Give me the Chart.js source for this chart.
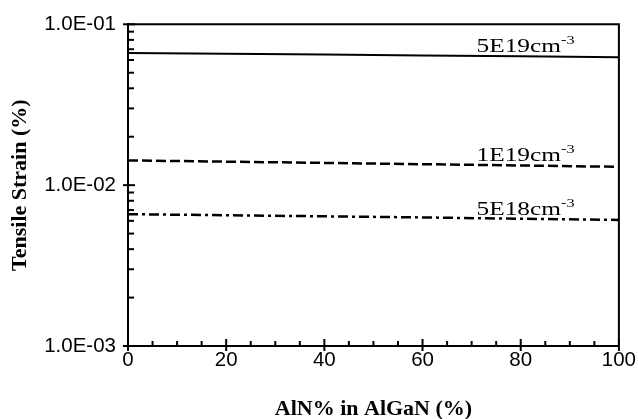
<!DOCTYPE html>
<html>
<head>
<meta charset="utf-8">
<script src="https://cdn.jsdelivr.net/npm/chart.js@4/dist/chart.umd.min.js"></script>
<style>
    html, body { margin: 0; padding: 0; background: #fff; }
    #wrap { width: 638px; height: 419px; }
</style>
</head>
<body>
<div id="wrap"><canvas id="myChart"></canvas></div>
<script>
// AlN fraction (%)
const alnPercent = [0, 20, 40, 60, 80, 100];

// tensile strain (%) for each doping level
const strain5e19 = [0.0662, 0.0655, 0.0648, 0.0640, 0.0632, 0.0624];
const strain1e19 = [0.01425, 0.0140, 0.01375, 0.0135, 0.01325, 0.0130];
const strain5e18 = [0.0066, 0.0065, 0.0064, 0.0063, 0.00618, 0.00608];

const seriesNames = ['5E19cm', '1E19cm', '5E18cm'];
const seriesSup = '-3';

const xTickValues = [0, 20, 40, 60, 80, 100];
const yTickValues = [0.001, 0.01, 0.1];
const yTickLabels = ['1.0E-03', '1.0E-02', '1.0E-01'];

const LABEL_AT = 71; // x value where the series labels start

// tick marks, frame and series labels
const decorPlugin = {
    id: 'decor',
    afterDraw(chart) {
        const ctx = chart.ctx;
        const xs = chart.scales.x;
        const ys = chart.scales.y;
        const a = chart.chartArea;

        ctx.save();
        ctx.strokeStyle = '#000';
        ctx.fillStyle = '#000';

        // frame top + right
        ctx.lineWidth = 2;
        ctx.beginPath();
        ctx.moveTo(a.left, a.top);
        ctx.lineTo(a.right, a.top);
        ctx.lineTo(a.right, a.bottom);
        ctx.stroke();

        // y ticks
        yTickValues.forEach(v => {
            const y = ys.getPixelForValue(v);
            ctx.beginPath();
            ctx.moveTo(a.left - 5, y);
            ctx.lineTo(a.left + 7, y);
            ctx.stroke();
        });
        for (let d = 0; d < yTickValues.length - 1; d++) {
            for (let k = 2; k <= 9; k++) {
                const y = ys.getPixelForValue(yTickValues[d] * k);
                ctx.beginPath();
                ctx.moveTo(a.left, y);
                ctx.lineTo(a.left + 6, y);
                ctx.stroke();
            }
        }

        // x ticks
        for (let v = 0; v <= 100; v += 5) {
            const x = xs.getPixelForValue(v);
            ctx.beginPath();
            if (v % 20 === 0) {
                ctx.moveTo(x, a.bottom - 7);
                ctx.lineTo(x, a.bottom + 5);
            } else {
                ctx.moveTo(x, a.bottom - 5);
                ctx.lineTo(x, a.bottom);
            }
            ctx.stroke();
        }

        // series labels
        const idx = alnPercent.indexOf(80);
        const x0 = xs.getPixelForValue(LABEL_AT);
        chart.data.datasets.forEach((ds, i) => {
            const yLine = ys.getPixelForValue(ds.data[idx]);
            const base = yLine - 4;
            ctx.save();
            ctx.translate(x0, base);
            ctx.scale(1.3, 1);
            ctx.textBaseline = 'alphabetic';
            ctx.textAlign = 'left';
            ctx.font = '19.5px "Liberation Serif", "Times New Roman", serif';
            ctx.fillText(seriesNames[i], 0, 0);
            const w = ctx.measureText(seriesNames[i]).width;
            ctx.font = '12.5px "Liberation Serif", "Times New Roman", serif';
            ctx.fillText(seriesSup, w, -8);
            ctx.restore();
        });

        ctx.restore();
    }
};

const ctx = document.getElementById('myChart').getContext('2d');
new Chart(ctx, {
    type: 'line',
    data: {
        labels: alnPercent,
        datasets: [{
            label: seriesNames[0],
            data: strain5e19,
            borderColor: '#000',
            borderWidth: 2,
            borderDash: []
        }, {
            label: seriesNames[1],
            data: strain1e19,
            borderColor: '#000',
            borderWidth: 2.5,
            borderDash: [10, 4]
        }, {
            label: seriesNames[2],
            data: strain5e18,
            borderColor: '#000',
            borderWidth: 2.5,
            borderDash: [10, 4, 3, 4]
        }]
    },
    options: {
        responsive: true,
        maintainAspectRatio: false,
        animation: false,
        events: [],
        layout: { padding: { top: 22, right: 17, bottom: 0, left: 0 } },
        elements: { point: { radius: 0 }, line: { tension: 0, fill: false } },
        plugins: { legend: { display: false }, tooltip: { enabled: false } },
        scales: {
            x: {
                type: 'linear',
                min: 0,
                max: 100,
                afterBuildTicks: s => { s.ticks = xTickValues.map(v => ({ value: v })); },
                afterFit: s => { s.height = 73; },
                grid: { display: false, drawTicks: false },
                border: { display: true, color: '#000', width: 2 },
                ticks: {
                    color: '#000',
                    padding: 2,
                    maxRotation: 0,
                    autoSkip: false,
                    font: { family: '"Liberation Sans", Arial, sans-serif', size: 20.5 }
                },
                title: {
                    display: true,
                    text: 'AlN% in AlGaN (%)',
                    color: '#000',
                    padding: { top: 0, bottom: -1 },
                    font: { family: '"Liberation Serif", "Times New Roman", serif', size: 22, weight: 'bold', lineHeight: 1 }
                }
            },
            y: {
                type: 'logarithmic',
                min: 0.001,
                max: 0.1,
                afterBuildTicks: s => { s.ticks = yTickValues.map(v => ({ value: v })); },
                afterFit: s => { s.width = 128; },
                grid: { display: false, drawTicks: false },
                border: { display: true, color: '#000', width: 2 },
                ticks: {
                    color: '#000',
                    padding: 12,
                    autoSkip: false,
                    callback: v => {
                        const i = yTickValues.findIndex(t => Math.abs(t - v) < t * 1e-6);
                        return i >= 0 ? yTickLabels[i] : '';
                    },
                    font: { family: '"Liberation Sans", Arial, sans-serif', size: 20.5 }
                },
                title: {
                    display: true,
                    text: 'Tensile Strain (%)',
                    color: '#000',
                    padding: { top: 9, bottom: 0 },
                    font: { family: '"Liberation Serif", "Times New Roman", serif', size: 22, weight: 'bold', lineHeight: 1 }
                }
            }
        }
    },
    plugins: [decorPlugin]
});
</script>
</body>
</html>
